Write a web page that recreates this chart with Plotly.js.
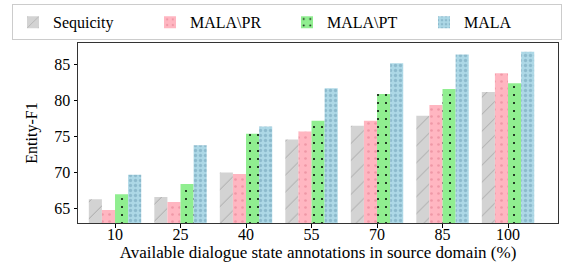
<!DOCTYPE html>
<html>
<head>
<meta charset="utf-8">
<script src="https://cdn.plot.ly/plotly-3.0.1.min.js"></script>
<style>html,body{margin:0;padding:0;background:#fff;}#chart{width:562px;height:264px;}</style>
</head>
<body>
<div id="chart"></div>
<script>
const categories = ['10', '25', '40', '55', '70', '85', '100'];
const seriesNames = ['Sequicity', 'MALA\\PR', 'MALA\\PT', 'MALA'];
const sequicity = [66.3, 66.6, 70.0, 74.6, 76.5, 77.9, 81.2];
const malaPR    = [64.8, 65.9, 69.8, 75.7, 77.2, 79.4, 83.8];
const malaPT    = [67.0, 68.4, 75.4, 77.2, 80.9, 81.6, 82.4];
const mala      = [69.7, 73.8, 76.4, 81.7, 85.2, 86.4, 86.8];
const yTicks = [65, 70, 75, 80, 85];

const styles = [
  {color: '#d3d3d3', pattern: {shape: '/', fgcolor: '#a0a0a0', size: 12, solidity: 0.07}},
  {color: '#ffb6c1', pattern: {shape: '.', fgcolor: '#e07a8c', fgopacity: 0.5, size: 7, solidity: 0.12}},
  {color: '#90ee90', pattern: {shape: '.', fgcolor: '#000000', size: 8, solidity: 0.05}},
  {color: '#add8e6', pattern: {shape: '.', fgcolor: '#5d8fa8', fgopacity: 0.4, size: 5, solidity: 0.35}}
];
const values = [sequicity, malaPR, malaPT, mala];
const font = 'Liberation Serif';

const traces = values.map((v, i) => ({
  type: 'bar',
  name: seriesNames[i],
  x: categories,
  y: v,
  marker: {color: styles[i].color, line: {width: 0},
    pattern: Object.assign({bgcolor: styles[i].color, fillmode: 'replace'}, styles[i].pattern)}
}));

const layout = {
  width: 562, height: 264,
  margin: {l: 78, r: 4, t: 41, b: 41},
  paper_bgcolor: '#fff', plot_bgcolor: '#fff',
  font: {family: font, size: 16, color: '#000'},
  barmode: 'group', bargap: 0.2, bargroupgap: 0,
  showlegend: true,
  legend: {
    orientation: 'h', x: -0.1375, y: 1.215, xanchor: 'left', yanchor: 'top',
    bordercolor: '#cccccc', borderwidth: 1, bgcolor: '#fff',
    font: {family: font, size: 16, color: '#000'},
    entrywidth: 92, entrywidthmode: 'pixels', itemwidth: 30
  },
  xaxis: {
    type: 'category', range: [-0.565, 6.763],
    showline: true, linecolor: '#333', linewidth: 1, mirror: true,
    ticks: 'outside', ticklen: 3.5, tickcolor: '#000',
    ticklabelstandoff: -7,
    showgrid: false, zeroline: false, automargin: false,
    tickfont: {family: font, size: 16},
    title: {text: 'Available dialogue state annotations in source domain (%)', font: {family: font, size: 17}, standoff: 2}
  },
  yaxis: {
    range: [63, 88], tickvals: yTicks,
    showline: true, linecolor: '#333', linewidth: 1, mirror: true,
    ticks: 'outside', ticklen: 3.5, tickcolor: '#000',
    showgrid: false, zeroline: false,
    tickfont: {family: font, size: 16},
    title: {text: 'Entity-F1', font: {family: font, size: 16}, standoff: 12}
  }
};

Plotly.newPlot('chart', traces, layout, {displayModeBar: false, staticPlot: true});
</script>
</body>
</html>
